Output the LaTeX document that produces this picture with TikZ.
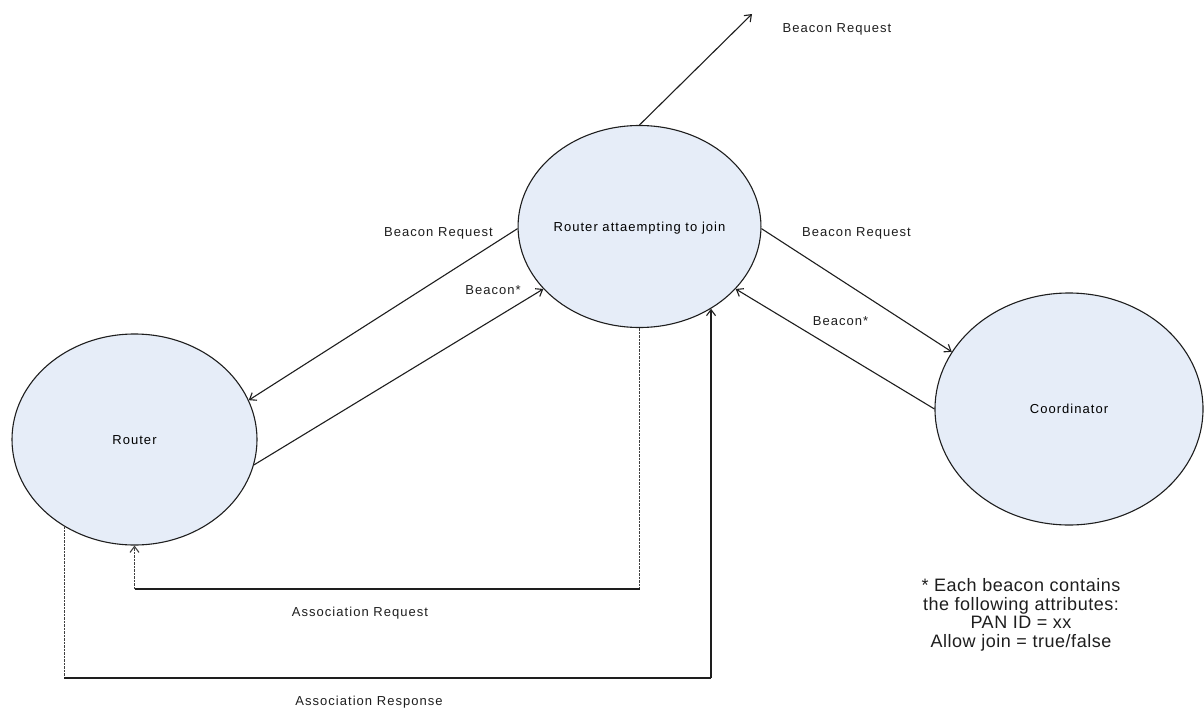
\documentclass[tikz,border=0pt]{standalone}
\usepackage{fontspec}
\setmainfont{Liberation Sans}
\newfontfamily\lblfamily[LetterSpace=8]{Liberation Sans}
\newfontfamily\notefamily[LetterSpace=3]{Liberation Sans}
\newcommand\lblfont{\lblfamily\fontsize{13}{15}\selectfont}
\newcommand\notefont{\notefamily\fontsize{18}{18.65}\selectfont}
\usetikzlibrary{shapes.geometric,arrows.meta}
\definecolor{nodefill}{RGB}{230,237,248}
\definecolor{linecol}{RGB}{30,30,30}
\begin{document}
\begin{tikzpicture}[x=1pt,y=-1pt,
  state/.style={ellipse,draw=linecol,fill=nodefill,line width=1.1pt,inner sep=0pt,
    font=\lblfont,text height=9.4pt,text depth=0pt},
  conn/.style={draw=linecol,line width=1.1pt},
  arr/.style={conn,-{Straight Barb[length=6pt,width=9pt]}},
  dsh/.style={draw=linecol!85,line width=1.1pt,dash pattern=on 2.5pt off 1pt},
  lbl/.style={font=\lblfont,anchor=base,inner sep=0pt,text=linecol}]
\useasboundingbox (0,0) rectangle (1204,709);
\fill[white] (0,0) rectangle (1204,709);

\node[state,minimum width=245pt,minimum height=211pt] (router) at (134.5,439.5) {Router};
\node[state,minimum width=235pt,minimum height=202pt] (join) at (639.5,226.5) {Router attaempting to join};
\node[state,minimum width=268pt,minimum height=232pt] (coord) at (1069,409) {Coordinator};

\coordinate (topend) at (752,14);
\draw[arr] (join.north) -- (topend);
\draw[arr] (join.181) -- (router.19);
\draw[arr] (router.-12) -- (join.213);
\draw[arr] (join.-1) -- (coord.154);
\draw[arr] (coord.180) -- (join.-33.5);

% Association Request
\coordinate (reqy) at (0,589);
\coordinate (jS) at (join.south);
\coordinate (rS) at (router.south);
\draw[dsh] (jS) -- (jS |- reqy);
\draw[conn] (jS |- reqy) -- (rS |- reqy);
\draw[dsh,-{Straight Barb[length=6pt,width=9pt]}] (rS |- reqy) -- (rS);

% Association Response
\coordinate (resy) at (0,678);
\coordinate (rL) at (router.231);
\coordinate (jR) at (join.-49);
\draw[dsh] (rL) -- (rL |- resy);
\draw[conn] (rL |- resy) -- (jR |- resy);
\draw[arr] (jR |- resy) -- (jR);

% labels
\node[lbl] (lbrtop) at (837,33) {Beacon Request};
\node[lbl] (lbrl) at (438.5,236) {Beacon Request};
\node[lbl] (lbrr) at (856.5,236) {Beacon Request};
\node[lbl] (lbc1) at (493,294) {Beacon*};
\node[lbl] (lbc2) at (840.5,325) {Beacon*};
\node[lbl] (lareq) at (360,616) {Association Request};
\node[lbl] (lares) at (369,705) {Association Response};
\node[font=\notefont,align=center,inner sep=0pt,text=linecol] (note) at (1021,615)
  {* Each beacon contains\\the following attributes:\\PAN ID = xx\\Allow join = true/false};
\end{tikzpicture}
\end{document}
